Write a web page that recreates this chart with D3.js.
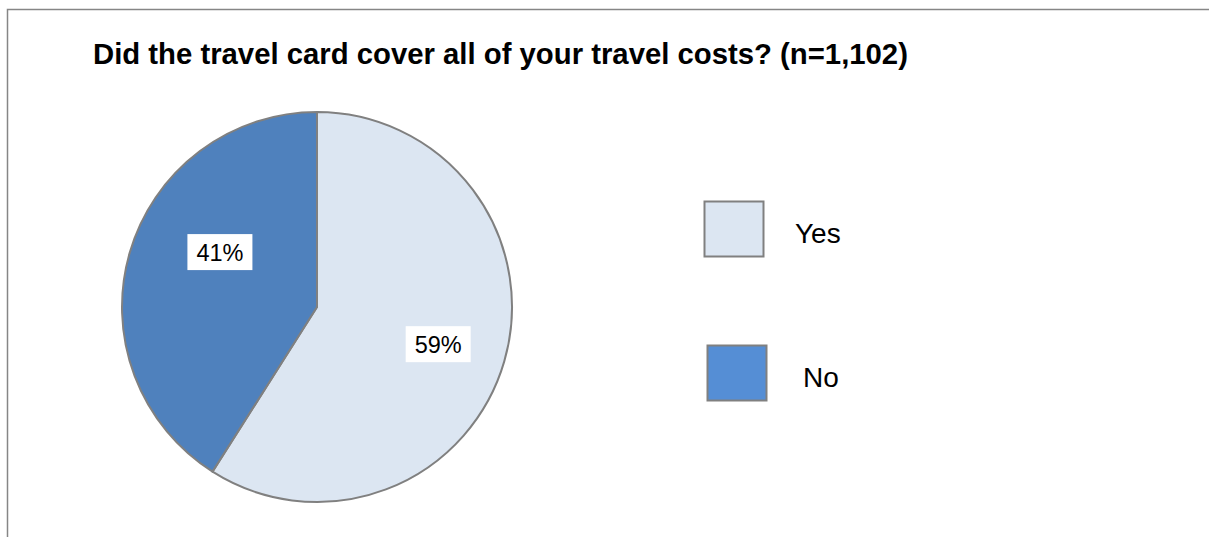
<!DOCTYPE html>
<html>
<head>
<meta charset="utf-8">
<script src="https://cdn.jsdelivr.net/npm/d3@7"></script>
<style>
  html, body { margin: 0; padding: 0; background: #fff; }
  svg { display: block; font-family: "Liberation Sans", Arial, sans-serif; }
</style>
</head>
<body>
<svg id="chart" width="1209" height="537"></svg>
<script>
// Survey answers and their shares
const categories = ["Yes", "No"];
const values = [59, 41];
const pieColors = ["#dce6f2", "#4f81bd"];
const legendColors = ["#dce6f2", "#558ed5"];
const titleText = "Did the travel card cover all of your travel costs? (n=1,102)";

const svg = d3.select("#chart");

// Outer frame (runs past the right and bottom edges)
svg.append("rect")
  .attr("x", 7.5).attr("y", 9.5)
  .attr("width", 1220).attr("height", 560)
  .attr("fill", "#fff")
  .attr("stroke", "#868686")
  .attr("stroke-width", 1.5);

svg.append("text")
  .attr("x", 93).attr("y", 63.5)
  .attr("font-size", 29.3).attr("font-weight", "bold")
  .attr("fill", "#000")
  .text(titleText);

const cx = 317, cy = 307, r = 195;
const data = categories.map((c, i) => ({ name: c, value: values[i], color: pieColors[i] }));

const pie = d3.pie().sort(null).value(d => d.value);
const arc = d3.arc().innerRadius(0).outerRadius(r);
const arcs = pie(data);

const g = svg.append("g").attr("transform", `translate(${cx},${cy})`);
g.selectAll("path")
  .data(arcs)
  .join("path")
  .attr("d", arc)
  .attr("fill", d => d.data.color)
  .attr("stroke", "#808080")
  .attr("stroke-width", 2)
  .attr("stroke-linejoin", "round");

// Value labels on white boxes; placement nudged per slice (radius fraction, angle shift in radians)
const labelPlacement = { Yes: { rf: 0.65, shift: 0.015 }, No: { rf: 0.572, shift: 0.232 } };
function labelXY(d) {
  const p = labelPlacement[d.data.name];
  const a = (d.startAngle + d.endAngle) / 2 + p.shift;
  const rr = r * p.rf;
  return [rr * Math.sin(a), -rr * Math.cos(a)];
}
const boxW = 65, boxH = 36;
const labels = g.selectAll("g.lbl")
  .data(arcs)
  .join("g")
  .attr("class", "lbl")
  .attr("transform", d => `translate(${labelXY(d)})`);
labels.append("rect")
  .attr("x", -boxW / 2).attr("y", -boxH / 2)
  .attr("width", boxW).attr("height", boxH)
  .attr("fill", "#fff");
labels.append("text")
  .attr("text-anchor", "middle")
  .attr("dy", "0.36em")
  .attr("font-size", 23.5)
  .attr("fill", "#000")
  .text(d => d.data.value + "%");

// Legend
const legendY = d3.scalePoint().domain(categories).range([229, 373]);
const legendX = d3.scalePoint().domain(categories).range([704, 707]);
const leg = svg.selectAll("g.leg")
  .data(categories)
  .join("g")
  .attr("class", "leg");
leg.append("rect")
  .attr("x", d => legendX(d) + 0.5)
  .attr("y", d => legendY(d) - 27.5)
  .attr("width", 59).attr("height", 55)
  .attr("fill", (d, i) => legendColors[i])
  .attr("stroke", "#808080")
  .attr("stroke-width", 2);
leg.append("text")
  .attr("x", (d, i) => legendX(d) + 91 + i * 5)
  .attr("y", d => legendY(d) + 14)
  .attr("font-size", 28)
  .attr("fill", "#000")
  .text(d => d);
</script>
</body>
</html>
